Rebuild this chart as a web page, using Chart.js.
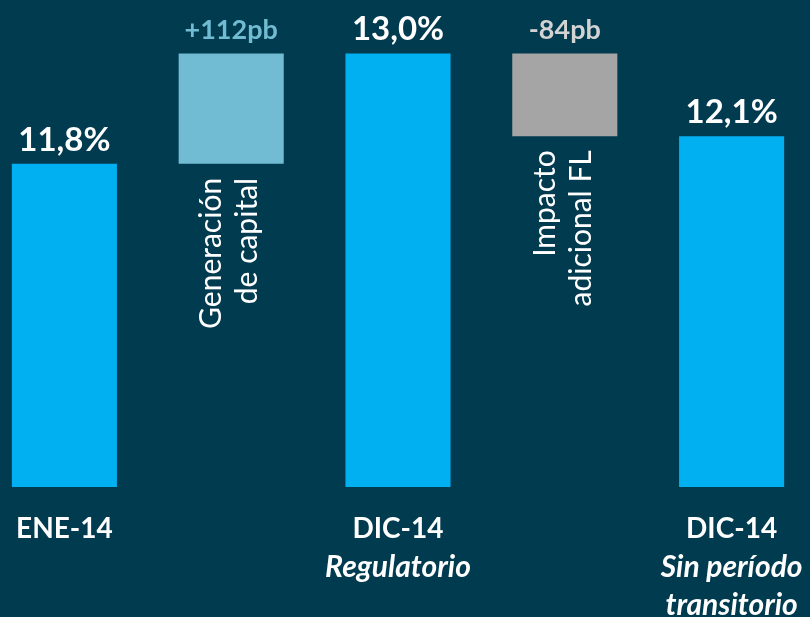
<!DOCTYPE html>
<html>
<head>
<meta charset="utf-8">
<script src="https://cdn.jsdelivr.net/npm/chart.js@4.4.1/dist/chart.umd.min.js"></script>
<style>
  html, body { margin:0; padding:0; width:810px; height:617px; overflow:hidden; background:#013B50; }
  #wrap { position:absolute; left:-19px; top:0; width:834px; height:617px; }
</style>
</head>
<body>
<div id="wrap"><canvas id="c" width="834" height="617"></canvas></div>
<script>
// ---- data ----
const categories = ['ENE-14', 'Generación de capital', 'DIC-14 Regulatorio', 'Impacto adicional FL', 'DIC-14 Sin período transitorio'];
const ratioValues = [11.8, null, 13.0, null, 12.1];      // capital ratio, %
const deltaBp = [null, 112, null, -84, null];             // change, basis points
const tickLabels = [['ENE-14'], [], ['DIC-14', 'Regulatorio'], [], ['DIC-14', 'Sin período', 'transitorio']];
const barNotes = [null, ['Generación', 'de capital'], null, ['Impacto', 'adicional FL'], null];

// bridge bars span from the previous total to the next total
const barData = ratioValues.map((v, i) => v !== null ? v : [Math.min(ratioValues[i-1], ratioValues[i+1]), Math.max(ratioValues[i-1], ratioValues[i+1])]);
const valueLabels = ratioValues.map((v, i) => v !== null ? v.toFixed(1).replace('.', ',') + '%' : (deltaBp[i] > 0 ? '+' : '') + deltaBp[i] + 'pb');

const barColors = ratioValues.map((v, i) => v !== null ? '#00B0F0' : (deltaBp[i] > 0 ? '#71BCD2' : '#A5A5A5'));
const labelColors = ratioValues.map((v, i) => v !== null ? '#FFFFFF' : (deltaBp[i] > 0 ? '#71BCD2' : '#D3D3D3'));

const FONT = 'Lato, "Open Sans", sans-serif';

const labelPlugin = {
  id: 'labels',
  afterDatasetsDraw(chart) {
    const ctx = chart.ctx;
    const meta = chart.getDatasetMeta(0);
    meta.data.forEach((bar, i) => {
      const top = Math.min(bar.y, bar.base);
      const bottom = Math.max(bar.y, bar.base);
      ctx.save();
      ctx.textAlign = 'center';
      ctx.textBaseline = 'alphabetic';
      ctx.fillStyle = labelColors[i];
      if (ratioValues[i] !== null) {
        ctx.font = 'bold 33px ' + FONT;
        ctx.fillText(valueLabels[i], bar.x, top - 13);
      } else {
        ctx.font = 'bold 27px ' + FONT;
        ctx.fillText(valueLabels[i], bar.x, top - 14);
      }
      ctx.restore();

      if (barNotes[i]) {
        ctx.save();
        ctx.translate(bar.x, bottom + 14);
        ctx.rotate(-Math.PI / 2);
        ctx.textAlign = 'right';
        ctx.textBaseline = 'alphabetic';
        ctx.fillStyle = '#FFFFFF';
        ctx.font = '30px ' + FONT;
        ctx.fillText(barNotes[i][0], 0, -10);
        ctx.fillText(barNotes[i][1], 0, 26);
        ctx.restore();
      }

      const lines = tickLabels[i];
      lines.forEach((t, j) => {
        ctx.save();
        ctx.textAlign = 'center';
        ctx.fillStyle = '#FFFFFF';
        ctx.font = (j === 0 ? 'bold 28px ' : 'italic bold 30px ') + FONT;
        ctx.fillText(t, bar.x, 538 + j * 38.5);
        ctx.restore();
      });
    });
  }
};

new Chart(document.getElementById('c'), {
  type: 'bar',
  data: {
    labels: categories,
    datasets: [{
      data: barData,
      backgroundColor: barColors,
      borderWidth: 0,
      barPercentage: 0.7,
      categoryPercentage: 0.9
    }]
  },
  options: {
    responsive: false,
    animation: false,
    devicePixelRatio: 1,
    layout: { padding: { top: 0, bottom: 130, left: 0, right: 0 } },
    plugins: { legend: { display: false }, tooltip: { enabled: false } },
    scales: {
      x: { display: false },
      y: { display: false, min: 8.29, max: 13.58 }
    }
  },
  plugins: [labelPlugin]
});
</script>
</body>
</html>
